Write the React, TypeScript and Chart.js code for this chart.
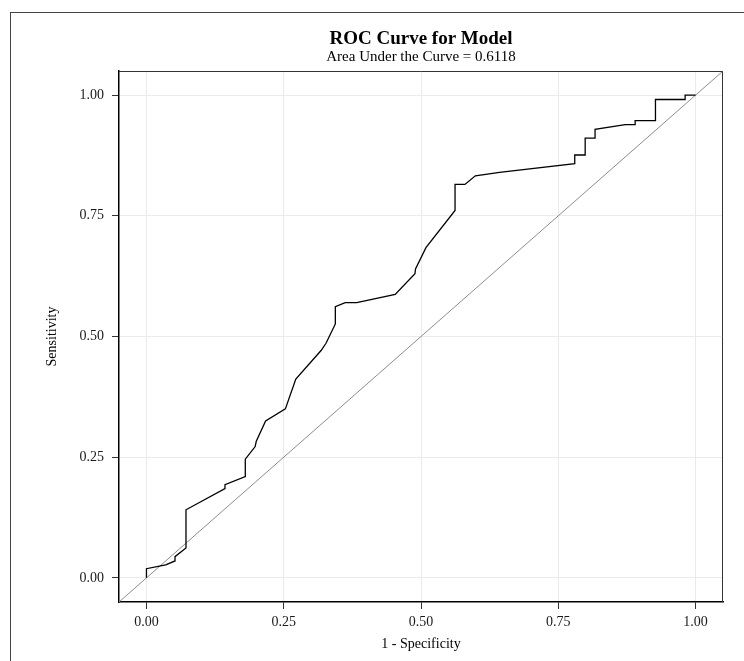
import React, { useEffect, useRef } from "react";
import { Chart, registerables } from "chart.js";

Chart.register(...registerables);

// ROC curve points (1 - specificity, sensitivity)
const fprValues = [
  0, 0, 0.035, 0.052, 0.052, 0.072, 0.072, 0.143, 0.143, 0.18, 0.18, 0.198, 0.2,
  0.217, 0.253, 0.272, 0.318, 0.327, 0.344, 0.344, 0.362, 0.383, 0.453, 0.489,
  0.49, 0.509, 0.562, 0.562, 0.58, 0.599, 0.643, 0.78, 0.78, 0.799, 0.799, 0.817,
  0.817, 0.872, 0.89, 0.89, 0.927, 0.927, 0.981, 0.981, 1.0,
];
const tprValues = [
  0, 0.019, 0.027, 0.035, 0.044, 0.062, 0.141, 0.185, 0.193, 0.21, 0.246, 0.272,
  0.283, 0.325, 0.35, 0.412, 0.471, 0.486, 0.526, 0.562, 0.57, 0.57, 0.587, 0.63,
  0.64, 0.684, 0.761, 0.815, 0.815, 0.833, 0.84, 0.858, 0.876, 0.876, 0.911,
  0.911, 0.929, 0.939, 0.939, 0.947, 0.947, 0.991, 0.991, 1.0, 1.0,
];

// Reference diagonal spanning the full expanded axis range
const diagonalValues = [-0.05, 1.05];

// Axis ticks
const tickValues = [0, 0.25, 0.5, 0.75, 1];
const tickLabels = ["0.00", "0.25", "0.50", "0.75", "1.00"];
const axisMin = -0.05;
const axisMax = 1.05;

const titleText = "ROC Curve for Model";
const subtitleText = "Area Under the Curve = 0.6118";
const xTitle = "1 - Specificity";
const yTitle = "Sensitivity";

const FONT = "'Liberation Serif', 'DejaVu Serif', 'Times New Roman', serif";

const framePlugin = {
  id: "frameTopRight",
  afterDraw(chart: any) {
    const { ctx, chartArea } = chart;
    const { left, right, top, bottom } = chartArea;
    ctx.save();
    ctx.strokeStyle = "#333333";
    ctx.lineWidth = 1;
    ctx.beginPath();
    ctx.moveTo(left, top + 0.5);
    ctx.lineTo(right - 0.5, top + 0.5);
    ctx.lineTo(right - 0.5, bottom);
    ctx.stroke();
    ctx.restore();
  },
};

export default function App() {
  const canvasRef = useRef<HTMLCanvasElement | null>(null);

  useEffect(() => {
    if (!canvasRef.current) return;
    const rocData = fprValues.map((x, i) => ({ x, y: tprValues[i] }));
    const diagData = diagonalValues.map((v) => ({ x: v, y: v }));

    const buildTicks = (scale: any) => {
      scale.ticks = tickValues.map((v) => ({ value: v }));
    };

    const chart = new Chart(canvasRef.current, {
      type: "scatter",
      data: {
        datasets: [
          {
            label: "Diagonal",
            data: diagData,
            showLine: true,
            borderColor: "#8c8c8c",
            borderWidth: 1,
            pointRadius: 0,
            pointHoverRadius: 0,
            order: 2,
          },
          {
            label: "ROC",
            data: rocData,
            showLine: true,
            borderColor: "#000000",
            borderWidth: 1.3,
            pointRadius: 0,
            pointHoverRadius: 0,
            tension: 0,
            order: 1,
          },
        ],
      },
      options: {
        animation: false,
        responsive: false,
        maintainAspectRatio: false,
        layout: { padding: { left: 0, right: 21, top: 0, bottom: 0 } },
        font: { family: FONT },
        plugins: {
          legend: { display: false },
          tooltip: { enabled: false },
          title: {
            display: true,
            text: titleText,
            fullSize: false,
            color: "#000000",
            font: { family: FONT, size: 19, weight: "bold", lineHeight: 1 },
            padding: { top: 29.5, bottom: 0 },
          },
          subtitle: {
            display: true,
            text: subtitleText,
            fullSize: false,
            color: "#000000",
            font: { family: FONT, size: 15, lineHeight: 1 },
            padding: { top: 1, bottom: 6.5 },
          },
        },
        scales: {
          x: {
            type: "linear",
            position: "bottom",
            min: axisMin,
            max: axisMax,
            afterBuildTicks: buildTicks,
            afterFit: (scale: any) => {
              scale.height = 59;
            },
            ticks: {
              callback: (_v: any, i: number) => tickLabels[i],
              color: "#1a1a1a",
              font: { family: FONT, size: 14 },
              padding: 5,
              maxRotation: 0,
            },
            grid: {
              color: "#ebebeb",
              lineWidth: 1,
              drawTicks: true,
              tickLength: 7,
              tickColor: "#333333",
              tickWidth: 1,
            },
            border: { display: true, color: "#000000", width: 1.5 },
            title: {
              display: true,
              text: xTitle,
              color: "#000000",
              font: { family: FONT, size: 14, lineHeight: 1.2 },
              padding: { top: 4, bottom: 8 },
            },
          },
          y: {
            type: "linear",
            position: "left",
            min: axisMin,
            max: axisMax,
            afterBuildTicks: buildTicks,
            afterFit: (scale: any) => {
              scale.width = 119;
            },
            ticks: {
              callback: (_v: any, i: number) => tickLabels[i],
              color: "#1a1a1a",
              font: { family: FONT, size: 14 },
              padding: 8,
            },
            grid: {
              color: "#ebebeb",
              lineWidth: 1,
              drawTicks: true,
              tickLength: 7,
              tickColor: "#333333",
              tickWidth: 1,
            },
            border: { display: true, color: "#000000", width: 1.5 },
            title: {
              display: true,
              text: yTitle,
              color: "#000000",
              font: { family: FONT, size: 14, lineHeight: 1.2 },
              padding: { top: 44, bottom: 4 },
            },
          },
        },
      },
      plugins: [framePlugin],
    });

    return () => {
      chart.destroy();
    };
  }, []);

  return (
    <div
      style={{
        position: "absolute",
        left: 0,
        top: 0,
        width: 744,
        height: 661,
        overflow: "hidden",
        background: "#ffffff",
      }}
    >
      <div
        style={{
          position: "absolute",
          left: 10,
          top: 12,
          width: 760,
          height: 680,
          border: "1px solid #444444",
          boxSizing: "border-box",
        }}
      />
      <canvas
        ref={canvasRef}
        width={744}
        height={661}
        style={{ position: "absolute", left: 0, top: 0, display: "block" }}
      />
    </div>
  );
}
